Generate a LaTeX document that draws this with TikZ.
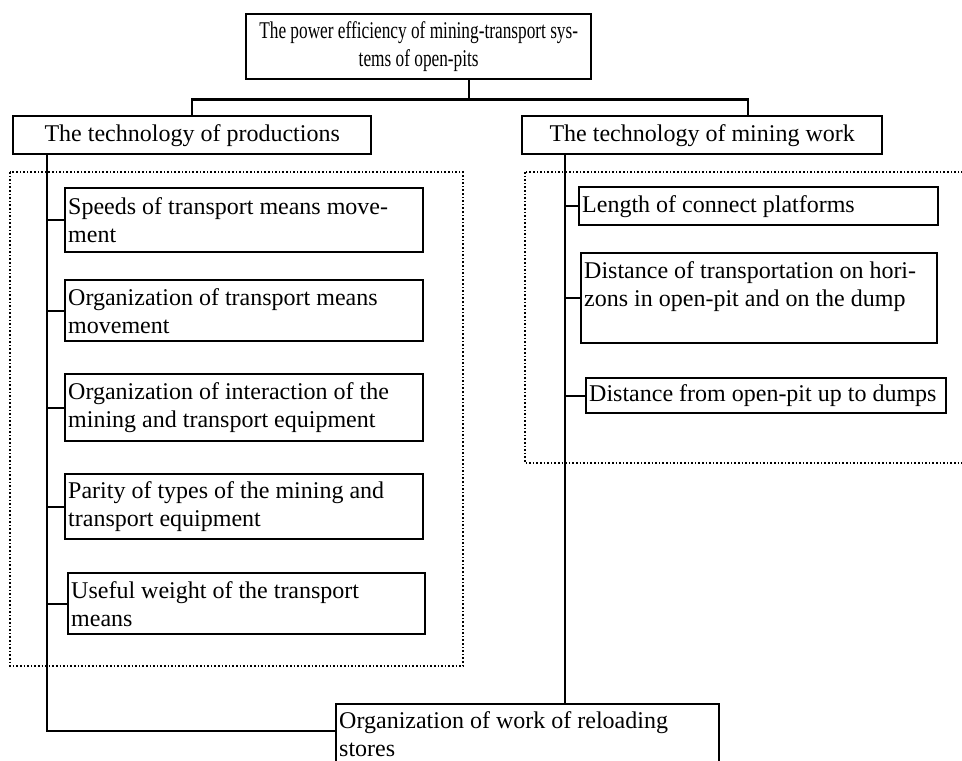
\documentclass[tikz,border=0pt]{standalone}
\usepackage{fontspec}
\setmainfont{Liberation Serif}
\newfontfamily\narrowfont[FakeStretch=0.72]{Liberation Serif}

\begin{document}
\begin{tikzpicture}[x=0.5pt, y=-0.5pt,
  box/.style={draw, line width=1.2pt, anchor=north west, inner xsep=1.5pt, inner ysep=0pt, font=\fontsize{12}{14}\selectfont},
  item/.style={box, align=flush left},
  head/.style={box, align=center},
  link/.style={line width=1.1pt},
  group/.style={densely dotted, line width=0.8pt}]
                \useasboundingbox (0,0) rectangle (962,760);
                \draw[group] (10,172) rectangle (463,666);
                \draw[group] (525,172) rectangle (975,463);
                \node[head, minimum width=172.5pt, minimum height=32.5pt, font=\narrowfont\fontsize{12}{14}\selectfont] (top) at (245,13) {The power efficiency of mining-transport sys-\\tems of open-pits};
                \node[head, minimum width=179pt, minimum height=19pt] (prod) at (12,115) {The technology of productions};
                \node[head, minimum width=180pt, minimum height=19pt] (tech) at (521,115) {The technology of mining work};
                \node[item, text width=176pt, minimum height=32pt] (speed) at (64,187) {Speeds of transport means move-\\ment};
                \node[item, text width=176pt, minimum height=30.5pt] (orgmove) at (64,279) {Organization of transport means\\movement};
                \node[item, text width=176pt, minimum height=33.5pt] (inter) at (64,373) {Organization of interaction of the\\mining and transport equipment};
                \node[item, text width=176pt, minimum height=32.5pt] (parity) at (64,473) {Parity of types of the mining and\\transport equipment};
                \node[item, text width=175.5pt, minimum height=30.5pt] (weight) at (67,572) {Useful weight of the transport\\means};
                \node[item, text width=176.5pt, minimum height=19pt] (len) at (578,186) {Length of connect platforms};
                \node[item, text width=175pt, minimum height=45pt] (dist) at (580,252) {Distance of transportation on hori-\\zons in open-pit and on the dump\\~};
                \node[item, text width=177pt, minimum height=17.5pt] (dump) at (585,377) {Distance from open-pit up to dumps};
                \node[item, text width=188.5pt, minimum height=30pt] (store) at (335,703) {Organization of work of reloading\\stores};
                \coordinate (stem) at ([xshift=112pt]top.south west);
                \coordinate (lspine) at ([xshift=17.5pt]prod.south west);
                \coordinate (rspine) at ([xshift=22pt]tech.south west);
                \draw[link] (stem) -- ++(0,19) coordinate (bar);
                \draw[link] (prod.north) |- (bar) -| ([xshift=113.5pt]tech.north west);
                \draw[link] (lspine) |- ([yshift=-14pt]store.north west);
                \draw[link] (rspine) -- (rspine |- store.north);
                \foreach \n in {speed, orgmove, inter, parity, weight} \draw[link] (lspine |- \n.west) -- (\n.west);
                \foreach \n in {len, dist, dump} \draw[link] (rspine |- \n.west) -- (\n.west);
\end{tikzpicture}
\end{document}
